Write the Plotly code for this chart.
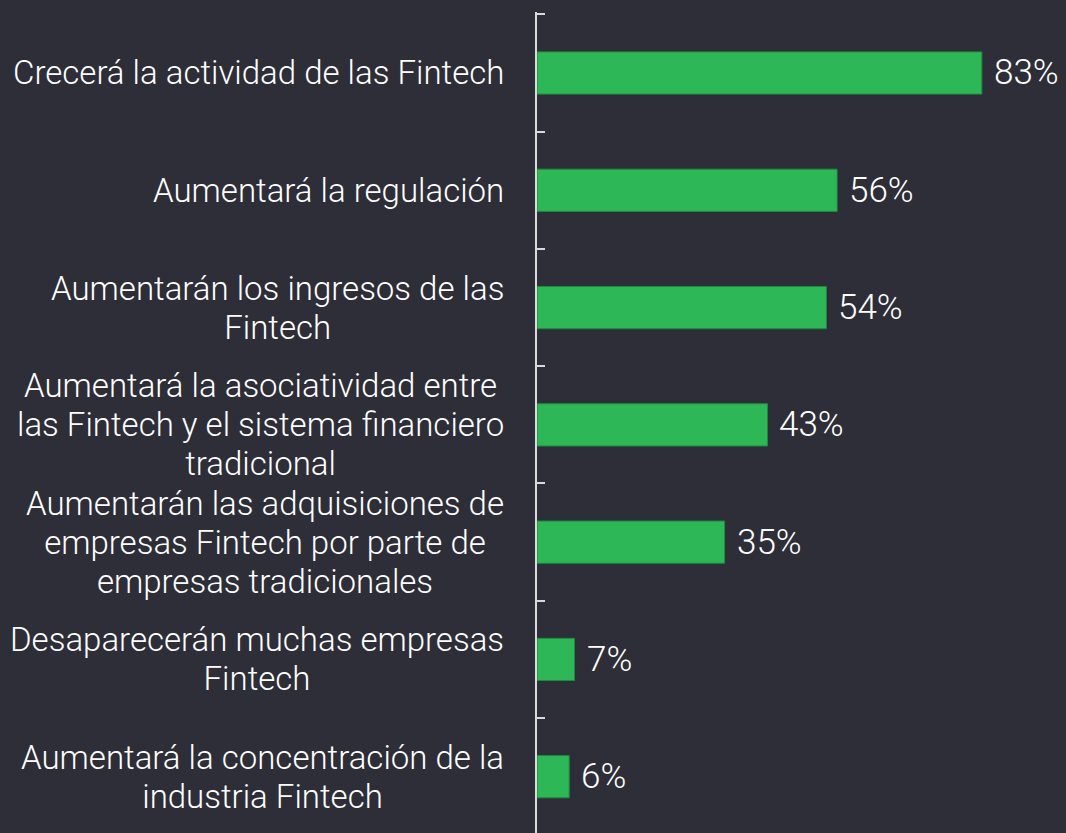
"""
Expectativas sobre la industria Fintech - horizontal bar chart
"""

import plotly.graph_objects as go

# Data (each category label kept as its display lines)
label_lines = [
    ["Crecerá la actividad de las Fintech"],
    ["Aumentará la regulación"],
    ["Aumentarán los ingresos de las", "Fintech"],
    ["Aumentará la asociatividad entre", "las Fintech y el sistema financiero", "tradicional"],
    ["Aumentarán las adquisiciones de", "empresas Fintech por parte de", "empresas tradicionales"],
    ["Desaparecerán muchas empresas", "Fintech"],
    ["Aumentará la concentración de la", "industria Fintech"],
]
values = [83, 56, 54, 43, 35, 7, 6]

categories = [" ".join(lines) for lines in label_lines]

BG = "#2e2e38"
GREEN = "#2db757"
FONT = "Roboto"

fig = go.Figure()

fig.add_trace(go.Bar(
    x=values,
    y=categories,
    orientation='h',
    width=0.36,
    marker=dict(color=GREEN, line=dict(color="#1f8a3e", width=1)),
    hoverinfo='skip',
))

# Category labels: base font 30 sets the line spacing, glyphs drawn at 33px
for cat, lines in zip(categories, label_lines):
    text = "<br>".join(f"<span style='font-size:33px'>{l}</span>" for l in lines)
    fig.add_annotation(
        x=0, xref='paper', xanchor='right', xshift=-31,
        y=cat, yref='y', yanchor='middle',
        text=text, align='center', showarrow=False,
        font=dict(family=FONT, size=30, weight=300, color="#ffffff"),
    )

# Value labels
for cat, val in zip(categories, values):
    fig.add_annotation(
        x=val, xref='x', xanchor='left', xshift=10,
        y=cat, yref='y', yanchor='middle',
        text=f"{val}%", showarrow=False,
        font=dict(family=FONT, size=35, weight=300, color="#ffffff"),
    )

fig.update_xaxes(
    range=[0, 98.7],
    showgrid=False, zeroline=False, showticklabels=False, showline=False,
)

fig.update_yaxes(
    range=[6.48, -0.52],
    showticklabels=False,
    showgrid=False,
    showline=True, linecolor="#d9d9dc", linewidth=2,
    tickson='boundaries', ticks='inside', ticklen=8, tickwidth=2,
    tickcolor="#d9d9dc",
)

fig.update_layout(
    width=1066,
    height=833,
    paper_bgcolor=BG,
    plot_bgcolor=BG,
    margin=dict(l=537, r=0, t=12, b=0),
    showlegend=False,
    bargap=0.64,
)

fig.write_html(
    "out.html",
    config={'displayModeBar': False},
    post_script="document.body.style.margin='0';",
)
